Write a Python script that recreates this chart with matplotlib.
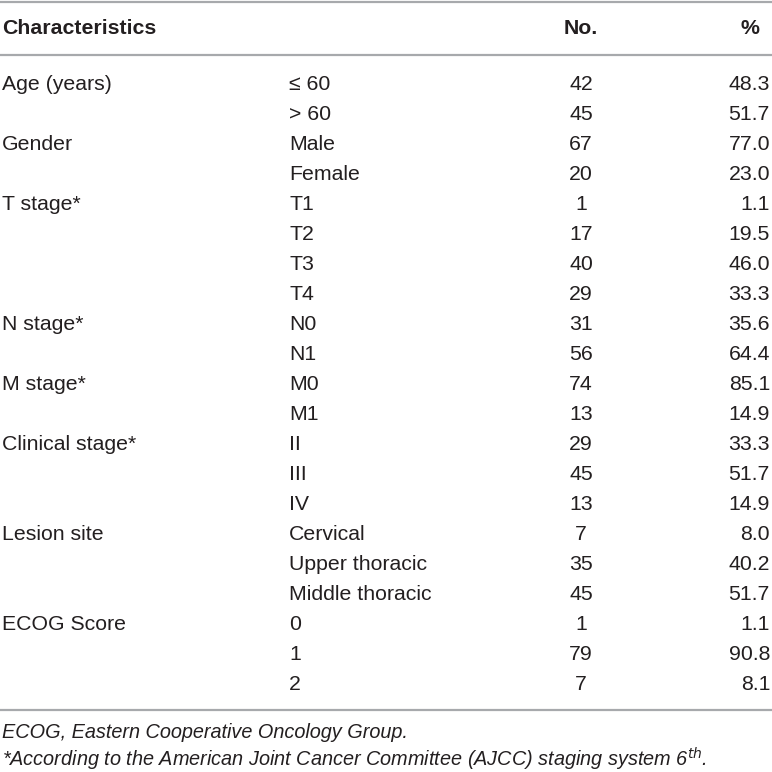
import matplotlib
matplotlib.use("Agg")
import matplotlib.pyplot as plt

# table data
groups = ["Age (years)", "", "Gender", "", "T stage*", "", "", "", "N stage*", "",
          "M stage*", "", "Clinical stage*", "", "", "Lesion site", "", "",
          "ECOG Score", "", ""]
levels = ["\u2264 60", "> 60", "Male", "Female", "T1", "T2", "T3", "T4", "N0", "N1",
          "M0", "M1", "II", "III", "IV", "Cervical", "Upper thoracic",
          "Middle thoracic", "0", "1", "2"]
counts = [42, 45, 67, 20, 1, 17, 40, 29, 31, 56, 74, 13, 29, 45, 13, 7, 35, 45, 1, 79, 7]
pcts = ["48.3", "51.7", "77.0", "23.0", "1.1", "19.5", "46.0", "33.3", "35.6", "64.4",
        "85.1", "14.9", "33.3", "51.7", "14.9", "8.0", "40.2", "51.7", "1.1", "90.8", "8.1"]
header = ["Characteristics", "No.", "%"]
notes = ["ECOG, Eastern Cooperative Oncology Group.",
         "*According to the American Joint Cancer Committee (AJCC) staging system 6$^{th}$."]

plt.rcParams['font.family'] = ['Liberation Sans', 'DejaVu Sans']
fig = plt.figure(figsize=(7.72, 7.72), dpi=100)
ax = fig.add_axes([0, 0, 1, 1])
ax.set_xlim(0, 772)
ax.set_ylim(772, 0)
ax.axis("off")

fs = 15.3
fs_note = 14.3
col = "#231f20"
lc = "#a7a9ac"

ax.axhline(1.5, color=lc, lw=1.6)
ax.axhline(55, color=lc, lw=1.6)
ax.axhline(710, color=lc, lw=1.6)

ax.text(2, 29, header[0], fontsize=fs, fontweight="bold", va="center", ha="left", color=col)
ax.text(581, 29, header[1], fontsize=fs, fontweight="bold", va="center", ha="center", color=col)
ax.text(750, 29, header[2], fontsize=fs, fontweight="bold", va="center", ha="center", color=col)

y0, dy = 84, 30
for i in range(len(levels)):
    y = y0 + i * dy
    ax.text(2, y, groups[i], fontsize=fs, va="center", ha="left", color=col)
    ax.text(289, y, levels[i], fontsize=fs, va="center", ha="left", color=col)
    ax.text(581, y, str(counts[i]), fontsize=fs, va="center", ha="center", color=col)
    ax.text(770, y, pcts[i], fontsize=fs, va="center", ha="right", color=col)

ax.text(2, 733, notes[0], fontsize=fs_note, style="italic", va="center", ha="left", color=col)
ax.text(2, 759, notes[1], fontsize=fs_note, style="italic", va="center", ha="left", color=col)

fig.savefig("out.png", dpi=100)
